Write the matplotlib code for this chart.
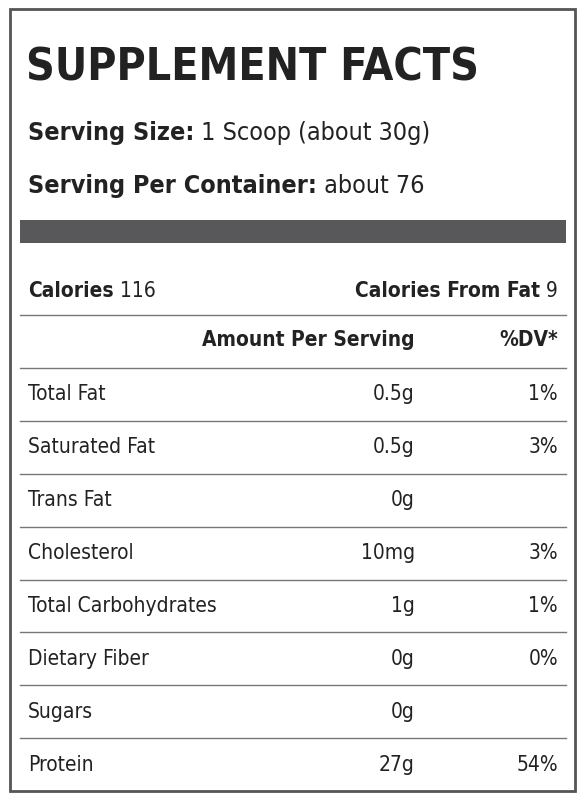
import matplotlib
matplotlib.use("Agg")
import matplotlib.pyplot as plt
from matplotlib.patches import Rectangle

nutrients = ["Total Fat", "Saturated Fat", "Trans Fat", "Cholesterol",
             "Total Carbohydrates", "Dietary Fiber", "Sugars", "Protein"]
amounts = ["0.5g", "0.5g", "0g", "10mg", "1g", "0g", "0g", "27g"]
dvs = ["1%", "3%", "", "3%", "1%", "0%", "", "54%"]
calories = "116"
calories_fat = "9"

fam = ["DejaVu Sans"]
ink = "#222222"
kw = dict(family=fam, stretch="condensed", color=ink, va="center")

fig = plt.figure(figsize=(5.85, 8), dpi=100)
ax = fig.add_axes([0, 0, 1, 1])
ax.set_xlim(0, 585)
ax.set_ylim(800, 0)
ax.axis("off")

ax.add_patch(Rectangle((10, 9), 565, 782, fill=False, ec="#555555", lw=2))
ax.add_patch(Rectangle((20, 220), 546, 23, color="#58585a", lw=0))


def after(prev, s, **extra):
    # place text right after a previous text object
    return ax.annotate(" " + s, xy=(1, 0.5), xycoords=prev, va="center",
                       ha="left", family=fam, stretch="condensed", color=ink,
                       **extra)


ax.text(26, 68, "SUPPLEMENT FACTS", fontsize=32, weight="bold", ha="left", **kw)
t = ax.text(28, 133, "Serving Size:", fontsize=18, weight="bold", **kw)
after(t, "1 Scoop (about 30g)", fontsize=18)
t = ax.text(28, 186, "Serving Per Container:", fontsize=18, weight="bold", **kw)
after(t, "about 76", fontsize=18)

t = ax.text(28, 291, "Calories", fontsize=15, weight="bold", **kw)
after(t, calories, fontsize=15)
t = ax.text(558, 291, calories_fat, fontsize=15, ha="right", **kw)
ax.annotate("Calories From Fat ", xy=(0, 0.5), xycoords=t, va="center",
            ha="right", family=fam, stretch="condensed", color=ink,
            fontsize=15, weight="bold")

ax.text(415, 340, "Amount Per Serving", fontsize=15, weight="bold", ha="right", **kw)
ax.text(558, 340, "%DV*", fontsize=15, weight="bold", ha="right", **kw)

row_h = 52.9
top = 315
for i in range(len(nutrients) + 2):
    y = top + i * row_h
    if y < 785:
        ax.plot([20, 566], [y, y], color="#777777", lw=1)

for i, (n, a, d) in enumerate(zip(nutrients, amounts, dvs)):
    y = top + (i + 1.5) * row_h
    ax.text(28, y, n, fontsize=15, **kw)
    ax.text(415, y, a, fontsize=15, ha="right", **kw)
    if d:
        ax.text(558, y, d, fontsize=15, ha="right", **kw)

fig.savefig("out.png", dpi=100)
